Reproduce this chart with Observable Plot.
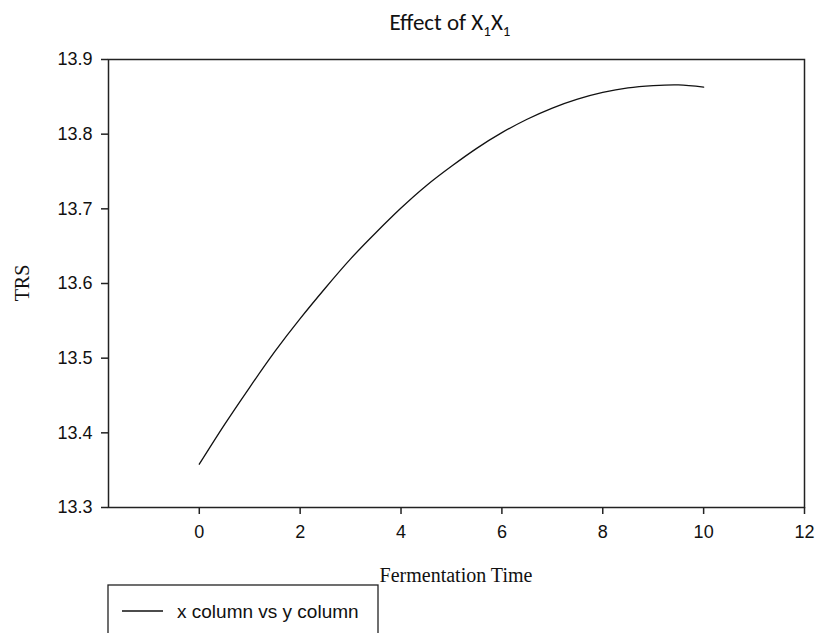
<!DOCTYPE html>
<html>
<head>
<meta charset="utf-8">
<script src="https://cdn.jsdelivr.net/npm/d3@7"></script>
<script src="https://cdn.jsdelivr.net/npm/@observablehq/plot@0.6"></script>
<style>
  html, body { margin: 0; padding: 0; background: #fff; }
</style>
</head>
<body>
<div id="chart"></div>
<script>
// Data
const fermentationTime = [0, 0.5, 1, 1.5, 2, 2.5, 3, 3.5, 4, 4.5, 5, 5.5, 6, 6.5, 7, 7.5, 8, 8.5, 9, 9.5, 10];
const trs = [13.358, 13.411, 13.461, 13.509, 13.553, 13.594, 13.633, 13.668, 13.701, 13.731, 13.757,
             13.781, 13.802, 13.820, 13.835, 13.847, 13.856, 13.862, 13.865, 13.866, 13.863];
const xTicks = [0, 2, 4, 6, 8, 10, 12];
const yTicks = [13.3, 13.4, 13.5, 13.6, 13.7, 13.8, 13.9];
const titleMain = "Effect of X";
const titleSub = "1";
const xLabel = "Fermentation Time";
const yLabel = "TRS";
const legendLabel = "x column vs y column";

const data = fermentationTime.map((t, i) => ({t, v: trs[i]}));

const plot = Plot.plot({
  width: 824,
  height: 633,
  marginLeft: 108,
  marginRight: 20,
  marginTop: 59,
  marginBottom: 126,
  style: {fontFamily: "'Liberation Sans', Arial, sans-serif", fontSize: "18px", background: "#fff", color: "#111"},
  x: {domain: [-1.8, 12]},
  y: {domain: [13.3, 13.9]},
  marks: [
    Plot.frame({stroke: "#222", strokeWidth: 1.5}),
    Plot.axisX({ticks: xTicks, tickSize: 7, tickPadding: 11, label: null, fontSize: 18, stroke: "#222", strokeWidth: 1.5}),
    Plot.axisY({ticks: yTicks, tickSize: 7, tickPadding: 9, label: null, fontSize: 18, tickFormat: d3.format(".1f"), stroke: "#222", strokeWidth: 1.5}),
    Plot.line(data, {x: "t", y: "v", stroke: "#111", strokeWidth: 1.3, curve: "natural"})
  ]
});

document.getElementById("chart").appendChild(plot);

const svg = d3.select(plot);

// Title with subscripts
const title = svg.append("text")
  .attr("x", 450).attr("y", 30)
  .attr("text-anchor", "middle")
  .attr("font-family", "Carlito, 'Open Sans', Lato, sans-serif")
  .attr("font-size", 23)
  .style("font-size", "23px")
  .attr("fill", "#111");
title.append("tspan").text(titleMain);
title.append("tspan").attr("dy", 6).attr("font-size", 15).style("font-size", "15px").text(titleSub);
title.append("tspan").attr("dy", -6).text("X");
title.append("tspan").attr("dy", 6).attr("font-size", 15).style("font-size", "15px").text(titleSub);

// Axis labels (serif)
svg.append("text")
  .attr("x", 456).attr("y", 582)
  .attr("text-anchor", "middle")
  .attr("font-family", "'Liberation Serif', 'Times New Roman', serif")
  .style("font-size", "20px")
  .attr("fill", "#111")
  .text(xLabel);

svg.append("text")
  .attr("transform", "translate(29,283) rotate(-90)")
  .attr("text-anchor", "middle")
  .attr("font-family", "'Liberation Serif', 'Times New Roman', serif")
  .style("font-size", "20px")
  .attr("fill", "#111")
  .text(yLabel);

// Legend box
svg.append("rect")
  .attr("x", 108).attr("y", 585).attr("width", 270).attr("height", 60)
  .attr("fill", "none").attr("stroke", "#222").attr("stroke-width", 1.3);
svg.append("line")
  .attr("x1", 122).attr("x2", 163).attr("y1", 611).attr("y2", 611)
  .attr("stroke", "#111").attr("stroke-width", 1.3);
svg.append("text")
  .attr("x", 177).attr("y", 618)
  .attr("text-anchor", "start")
  .attr("font-family", "'Liberation Sans', Arial, sans-serif")
  .style("font-size", "19px")
  .attr("fill", "#111")
  .text(legendLabel);
</script>
</body>
</html>
